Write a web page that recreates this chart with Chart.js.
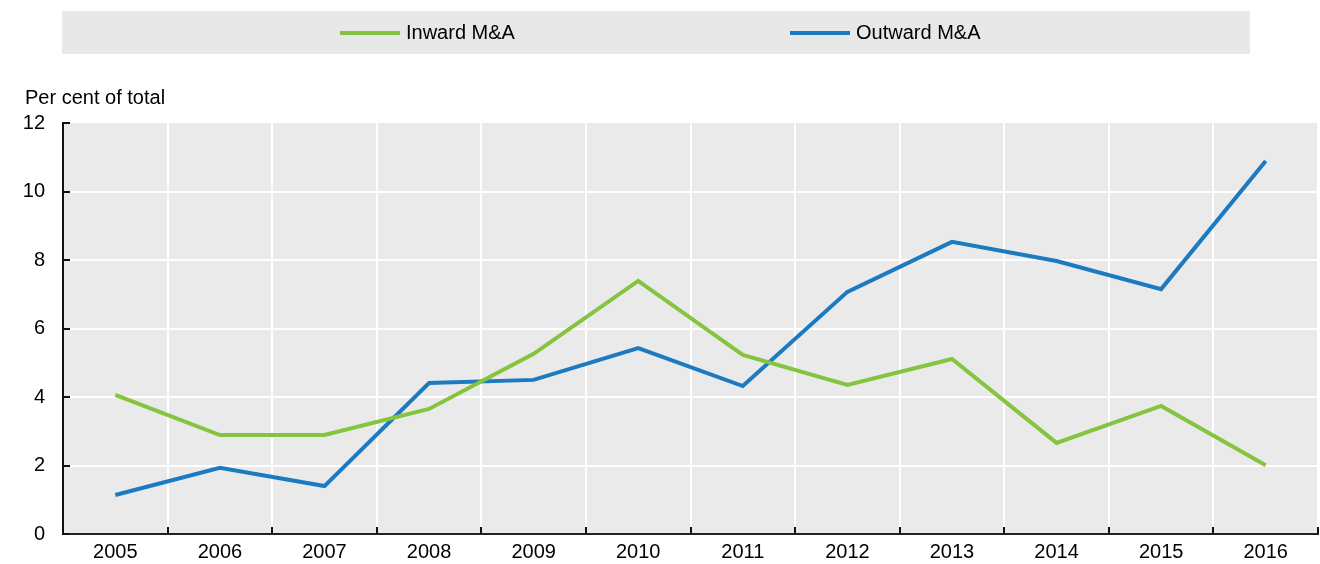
<!DOCTYPE html>
<html>
<head>
<meta charset="utf-8">
<script src="https://cdn.jsdelivr.net/npm/chart.js@4.4.1/dist/chart.umd.min.js"></script>
<style>
  html, body { margin: 0; padding: 0; background: #fff; }
  #wrap { width: 1320px; height: 564px; }
</style>
</head>
<body>
<div id="wrap"><canvas id="maChart" width="1320" height="564"></canvas></div>
<script>
const years = ['2005', '2006', '2007', '2008', '2009', '2010', '2011', '2012', '2013', '2014', '2015', '2016'];
const inwardMA = [4.06, 2.89, 2.89, 3.65, 5.26, 7.39, 5.23, 4.35, 5.11, 2.66, 3.74, 2.01];
const outwardMA = [1.14, 1.93, 1.40, 4.41, 4.50, 5.43, 4.32, 7.07, 8.53, 7.97, 7.15, 10.89];
const yTicks = [0, 2, 4, 6, 8, 10, 12];
const yTitle = 'Per cent of total';

const FONT = '"Liberation Sans Narrow", "Arial Narrow", "Liberation Sans", Arial, sans-serif';

// grey plot background, grey legend strip with line keys, axis caption
const oecdFrame = {
  id: 'oecdFrame',
  beforeDraw(chart) {
    const { ctx, chartArea } = chart;
    ctx.save();
    ctx.fillStyle = '#eaeaea';
    ctx.fillRect(chartArea.left, chartArea.top, chartArea.right - chartArea.left, chartArea.bottom - chartArea.top);

    // legend strip
    ctx.fillStyle = '#e8e8e8';
    ctx.fillRect(62, 11, 1188, 43);
    ctx.font = '20px ' + FONT;
    ctx.textBaseline = 'middle';
    const starts = [340, 790];
    chart.data.datasets.forEach((ds, i) => {
      const x = starts[i];
      ctx.strokeStyle = ds.borderColor;
      ctx.lineWidth = 4;
      ctx.beginPath();
      ctx.moveTo(x, 33);
      ctx.lineTo(x + 60, 33);
      ctx.stroke();
      ctx.fillStyle = '#000';
      ctx.fillText(ds.label, x + 66, 33);
    });

    // axis caption
    ctx.fillStyle = '#000';
    ctx.textBaseline = 'alphabetic';
    ctx.fillText(yTitle, 25, 104);
    ctx.restore();
  },
  // inward tick marks on both axes
  beforeDatasetsDraw(chart) {
    const { ctx, chartArea, scales } = chart;
    ctx.save();
    ctx.strokeStyle = '#111';
    ctx.lineWidth = 2;
    ctx.beginPath();
    const n = years.length;
    const step = (chartArea.right - chartArea.left) / n;
    for (let i = 0; i <= n; i++) {
      const x = Math.round(chartArea.left + i * step);
      ctx.moveTo(x, chartArea.bottom);
      ctx.lineTo(x, chartArea.bottom - 7);
    }
    yTicks.forEach((v) => {
      const y = Math.round(scales.y.getPixelForValue(v));
      ctx.moveTo(chartArea.left, y);
      ctx.lineTo(chartArea.left + 7, y);
    });
    ctx.stroke();
    ctx.restore();
  },
};

const ctx = document.getElementById('maChart').getContext('2d');
new Chart(ctx, {
  type: 'line',
  data: {
    labels: years,
    datasets: [
      {
        label: 'Inward M&A',
        data: inwardMA,
        borderColor: '#85c43f',
        backgroundColor: '#85c43f',
        borderWidth: 4,
        pointRadius: 0,
        tension: 0,
        fill: false,
      },
      {
        label: 'Outward M&A',
        data: outwardMA,
        borderColor: '#1c7ac0',
        backgroundColor: '#1c7ac0',
        borderWidth: 4,
        pointRadius: 0,
        tension: 0,
        fill: false,
      },
    ],
  },
  options: {
    responsive: false,
    animation: false,
    layout: { padding: { top: 123, right: 2, left: 0, bottom: 0 } },
    scales: {
      x: {
        offset: true,
        afterFit: (scale) => { scale.height = 30; },
        grid: {
          offset: true,
          color: '#ffffff',
          lineWidth: 2,
          drawTicks: false,
        },
        border: { color: '#222222', width: 2 },
        ticks: {
          color: '#000',
          padding: 6,
          maxRotation: 0,
          font: { family: FONT, size: 20 },
        },
      },
      y: {
        min: 0,
        max: 12,
        afterFit: (scale) => { scale.width = 63; },
        afterBuildTicks: (scale) => {
          scale.ticks = yTicks.map((v) => ({ value: v }));
        },
        grid: {
          color: (c) => (c.tick && c.tick.value === 12 ? 'rgba(0,0,0,0)' : '#ffffff'),
          lineWidth: 2,
          drawTicks: false,
        },
        border: { color: '#111111', width: 2 },
        ticks: {
          color: '#000',
          padding: 18,
          font: { family: FONT, size: 20 },
        },
      },
    },
    plugins: {
      legend: { display: false },
      tooltip: { enabled: false },
    },
  },
  plugins: [oecdFrame],
});
</script>
</body>
</html>
